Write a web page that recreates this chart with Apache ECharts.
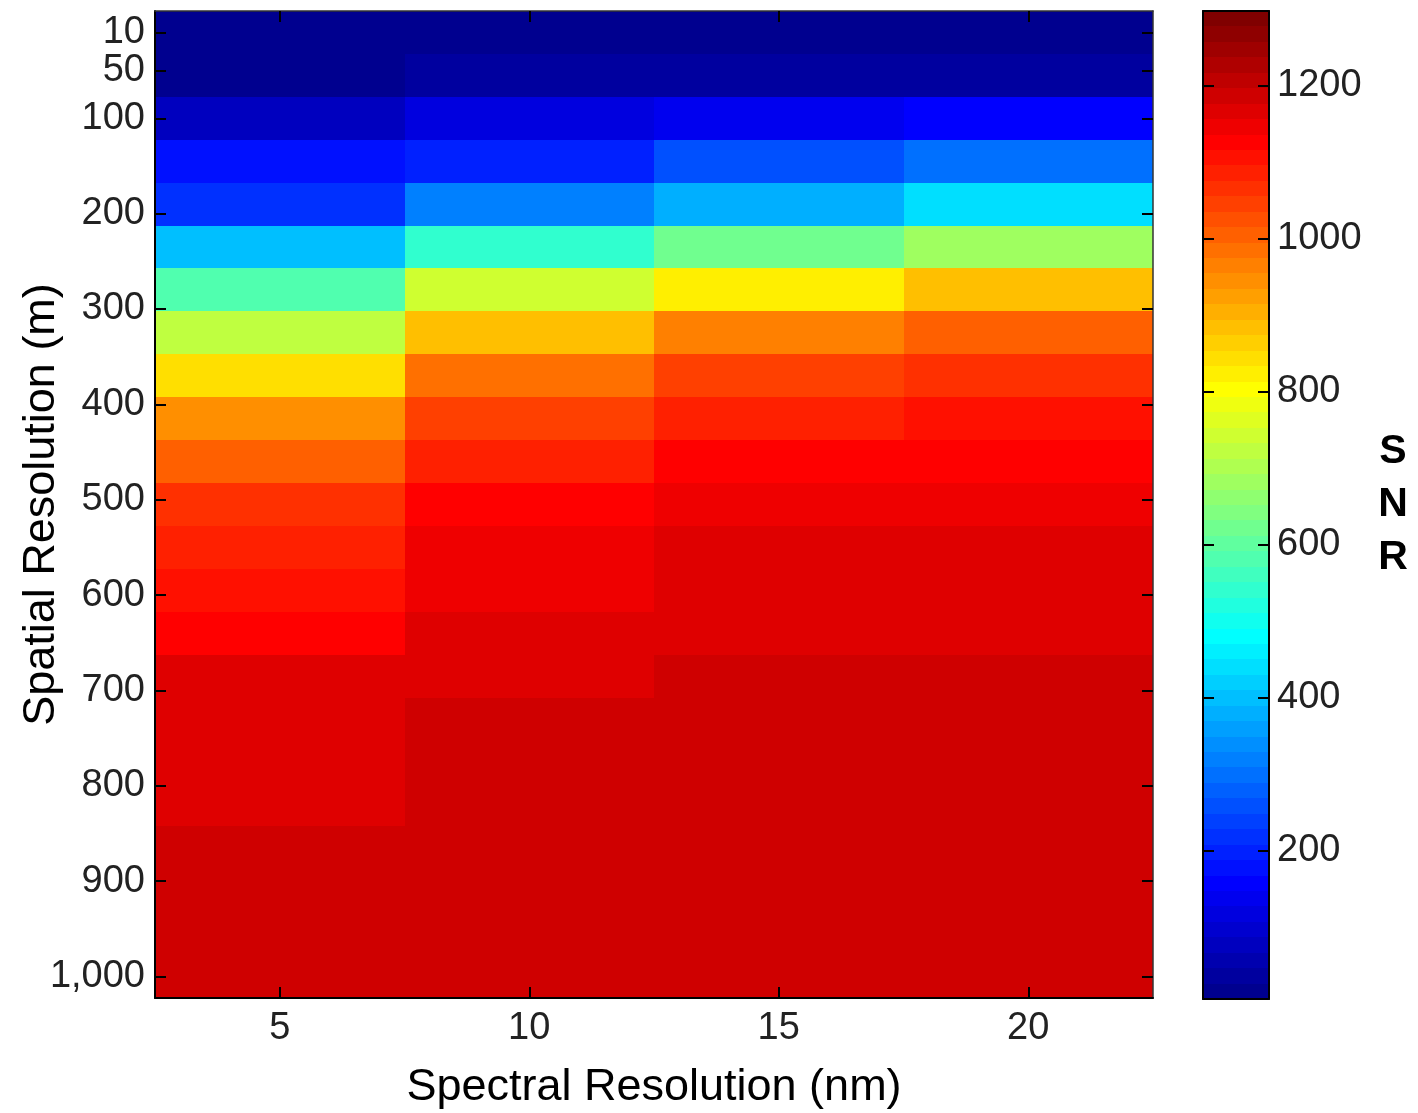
<!DOCTYPE html>
<html>
<head>
<meta charset="utf-8">
<title>SNR vs spatial and spectral resolution</title>
<script src="https://cdn.jsdelivr.net/npm/echarts@6/dist/echarts.min.js"></script>
<style>
  html, body { margin: 0; padding: 0; background: #ffffff; }
  #chart { width: 1418px; height: 1113px; }
</style>
</head>
<body>
<div id="chart"></div>
<script>
// Spectral resolution (nm): one column per value
const spectralRes = [5, 10, 15, 20];
// Spatial resolution (m): one row per value
const spatialRes = [10, 55, 100, 145, 190, 235, 280, 325, 370, 415, 460, 505,
                    550, 595, 640, 685, 730, 775, 820, 865, 910, 955, 1000];
// Tick labels
const spatialTicks = [10, 50, 100, 200, 300, 400, 500, 600, 700, 800, 900, 1000];
const spectralTicks = [5, 10, 15, 20];
const snrTicks = [200, 400, 600, 800, 1000, 1200];

// SNR per spectral-resolution column, listed by spatial resolution row
const snr5nm  = [6, 19, 76, 178, 219, 399, 582, 722, 843, 946, 1006, 1065,
                 1086, 1107, 1126, 1160, 1164, 1168, 1172, 1180, 1183, 1185, 1187];
const snr10nm = [9, 36, 117, 198, 318, 540, 743, 884, 985, 1046, 1086, 1127,
                 1143, 1152, 1162, 1171, 1179, 1183, 1186, 1188, 1190, 1192, 1194];
const snr15nm = [11, 38, 137, 258, 379, 622, 823, 965, 1046, 1086, 1126, 1147,
                 1160, 1166, 1173, 1180, 1184, 1187, 1189, 1191, 1192, 1194, 1195];
const snr20nm = [12, 40, 157, 298, 440, 682, 884, 1005, 1066, 1106, 1128, 1148,
                 1162, 1168, 1174, 1181, 1185, 1188, 1190, 1192, 1193, 1195, 1196];

// Colour limits of the SNR scale
const SNR_MIN = 6;
const SNR_MAX = 1298;

const snrColumns = [snr5nm, snr10nm, snr15nm, snr20nm];

// Classic 64-step "jet" colormap
const N_LEVELS = 64;
function jetColor(i) { // i = 1..64
  const n = 16;
  let r = 0, g = 0, b = 0;
  if (i <= 8) b = (i + 8) / n;
  else if (i <= 23) b = 1;
  else if (i <= 39) b = (40 - i) / n;
  if (i >= 9 && i <= 24) g = (i - 8) / n;
  else if (i >= 25 && i <= 39) g = 1;
  else if (i >= 40 && i <= 55) g = (56 - i) / n;
  if (i >= 25 && i <= 40) r = (i - 24) / n;
  else if (i >= 41 && i <= 55) r = 1;
  else if (i >= 56) r = (72 - i) / n;
  const c = v => Math.round(v * 255);
  return 'rgb(' + c(r) + ',' + c(g) + ',' + c(b) + ')';
}

const step = (SNR_MAX - SNR_MIN) / N_LEVELS;
const pieces = [];
const colorbarData = [];
for (let k = 0; k < N_LEVELS; k++) {
  const lo = SNR_MIN + k * step;
  const hi = SNR_MIN + (k + 1) * step;
  const piece = { gte: lo, color: jetColor(k + 1) };
  if (k === N_LEVELS - 1) piece.lte = hi; else piece.lt = hi;
  pieces.push(piece);
  colorbarData.push([lo, hi, (lo + hi) / 2]);
}

const cells = [];
spectralRes.forEach((sx, i) => {
  spatialRes.forEach((sy, j) => {
    cells.push([sx, sy, snrColumns[i][j]]);
  });
});

const halfW = (spectralRes[1] - spectralRes[0]) / 2;
const halfH = (spatialRes[1] - spatialRes[0]) / 2;

const FONT = "'Liberation Sans', Arial, Helvetica, sans-serif";
const INK = '#000000';
const tickLabel = { fontFamily: FONT, fontSize: 38, color: '#222222' };
const titleText = { fontFamily: FONT, fontSize: 45, fontWeight: 'normal', color: INK };

function thousands(v) {
  return String(v).replace(/\B(?=(\d{3})+(?!\d))/g, ',');
}

// Rectangle between two data corners, snapped to whole pixels so neighbours meet cleanly
function cellRect(x0, y0, x1, y1, api) {
  const p0 = api.coord([x0, y0]);
  const p1 = api.coord([x1, y1]);
  const left = Math.round(Math.min(p0[0], p1[0]));
  const right = Math.round(Math.max(p0[0], p1[0]));
  const top = Math.round(Math.min(p0[1], p1[1]));
  const bottom = Math.round(Math.max(p0[1], p1[1]));
  return {
    type: 'rect',
    shape: { x: left, y: top, width: right - left, height: bottom - top },
    style: { fill: api.visual('color') }
  };
}

const chart = echarts.init(document.getElementById('chart'), null, { renderer: 'canvas', devicePixelRatio: 1 });

const innerTick = (values) => ({
  show: true, inside: true, length: 11, customValues: values,
  lineStyle: { color: INK, width: 2 }
});

chart.setOption({
  animation: false,
  backgroundColor: '#ffffff',
  grid: [
    { left: 155, top: 11, width: 998, height: 987, containLabel: false, outerBoundsMode: 'none' },
    { left: 1203, top: 11, width: 66, height: 988, containLabel: false, outerBoundsMode: 'none' }
  ],
  visualMap: {
    type: 'piecewise',
    show: false,
    dimension: 2,
    seriesIndex: [0, 1],
    pieces: pieces
  },
  xAxis: [
    {
      gridIndex: 0, type: 'value', position: 'bottom', z: 10,
      min: spectralRes[0] - halfW, max: spectralRes[spectralRes.length - 1] + halfW,
      axisLine: { show: true, onZero: false, lineStyle: { color: INK, width: 2 } },
      axisTick: innerTick(spectralTicks),
      axisLabel: Object.assign({ customValues: spectralTicks, margin: 12 }, tickLabel),
      splitLine: { show: false },
      name: 'Spectral Resolution (nm)',
      nameLocation: 'middle', nameGap: 67,
      nameTextStyle: titleText
    },
    {
      gridIndex: 0, type: 'value', position: 'top', z: 10,
      min: spectralRes[0] - halfW, max: spectralRes[spectralRes.length - 1] + halfW,
      axisLine: { show: true, onZero: false, lineStyle: { color: '#333333', width: 1.5 } },
      axisTick: innerTick(spectralTicks),
      axisLabel: { show: false },
      splitLine: { show: false }
    },
    {
      gridIndex: 1, type: 'value', position: 'bottom', min: 0, max: 1, z: 10,
      axisLine: { show: true, onZero: false, lineStyle: { color: INK, width: 2 } },
      axisTick: { show: false }, axisLabel: { show: false }, splitLine: { show: false }
    },
    {
      gridIndex: 1, type: 'value', position: 'top', min: 0, max: 1, z: 10,
      axisLine: { show: true, onZero: false, lineStyle: { color: INK, width: 2 } },
      axisTick: { show: false }, axisLabel: { show: false }, splitLine: { show: false }
    }
  ],
  yAxis: [
    {
      gridIndex: 0, type: 'value', position: 'left', inverse: true, z: 10,
      min: spatialRes[0] - halfH, max: spatialRes[spatialRes.length - 1] + halfH,
      axisLine: { show: true, onZero: false, lineStyle: { color: INK, width: 2 } },
      axisTick: innerTick(spatialTicks),
      axisLabel: Object.assign({ customValues: spatialTicks, margin: 10, formatter: thousands }, tickLabel),
      splitLine: { show: false },
      name: 'Spatial Resolution (m)',
      nameLocation: 'middle', nameGap: 91, nameMoveOverlap: false,
      nameTextStyle: titleText
    },
    {
      gridIndex: 0, type: 'value', position: 'right', inverse: true, z: 10,
      min: spatialRes[0] - halfH, max: spatialRes[spatialRes.length - 1] + halfH,
      axisLine: { show: true, onZero: false, lineStyle: { color: '#333333', width: 1.5 } },
      axisTick: innerTick(spatialTicks),
      axisLabel: { show: false },
      splitLine: { show: false }
    },
    {
      gridIndex: 1, type: 'value', position: 'right', z: 10,
      min: SNR_MIN, max: SNR_MAX,
      axisLine: { show: true, onZero: false, lineStyle: { color: INK, width: 2 } },
      axisTick: innerTick(snrTicks),
      axisLabel: Object.assign({ customValues: snrTicks, margin: 8, formatter: v => String(v) }, tickLabel),
      splitLine: { show: false },
      name: 'S\nN\nR',
      nameLocation: 'middle', nameRotate: 0, nameGap: 124, nameMoveOverlap: false,
      nameTextStyle: Object.assign({}, titleText, { fontSize: 41, fontWeight: 'bold', lineHeight: 53, align: 'center' })
    },
    {
      gridIndex: 1, type: 'value', position: 'left', z: 10,
      min: SNR_MIN, max: SNR_MAX,
      axisLine: { show: true, onZero: false, lineStyle: { color: INK, width: 2 } },
      axisTick: innerTick(snrTicks),
      axisLabel: { show: false },
      splitLine: { show: false }
    }
  ],
  series: [
    {
      name: 'SNR',
      type: 'custom',
      xAxisIndex: 0, yAxisIndex: 0,
      clip: true,
      z: 1,
      data: cells,
      encode: { x: 0, y: 1 },
      renderItem: function (params, api) {
        const x = api.value(0), y = api.value(1);
        return cellRect(x - halfW, y - halfH, x + halfW, y + halfH, api);
      }
    },
    {
      name: 'SNR scale',
      type: 'custom',
      xAxisIndex: 2, yAxisIndex: 2,
      clip: true,
      z: 1,
      data: colorbarData,
      encode: { y: 2 },
      renderItem: function (params, api) {
        return cellRect(0, api.value(0), 1, api.value(1), api);
      }
    }
  ]
});
</script>
</body>
</html>
